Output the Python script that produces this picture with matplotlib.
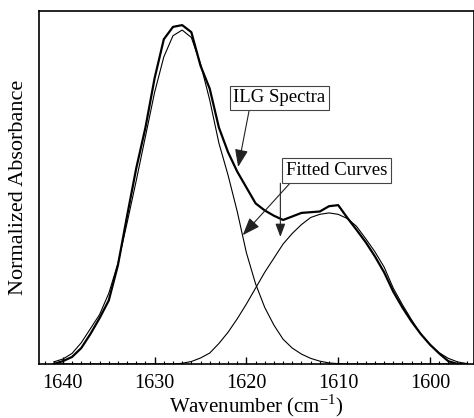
import numpy as np
import matplotlib.pyplot as plt
from matplotlib.ticker import MultipleLocator

plt.rcParams['font.family'] = ['Liberation Serif', 'DejaVu Serif']
plt.rcParams['mathtext.fontset'] = 'custom'
plt.rcParams['mathtext.rm'] = 'Liberation Serif'

# Wavenumber grid (cm^-1) shared by the measured and fitted curves
wavenumber = np.arange(1641, 1595, -1)

# Measured ILG spectrum (normalized)
ilg_spectrum = [
    0.0, 0.008, 0.02, 0.045, 0.085, 0.13, 0.18, 0.28, 0.42, 0.555,
    0.67, 0.81, 0.92, 0.955, 0.96, 0.94, 0.845, 0.78, 0.67, 0.60,
    0.545, 0.50, 0.455, 0.435, 0.42, 0.408, 0.418, 0.428, 0.43, 0.432,
    0.447, 0.45, 0.414, 0.38, 0.345, 0.305, 0.26, 0.205, 0.16, 0.12,
    0.085, 0.055, 0.03, 0.008, 0.0, 0.0,
]

# Fitted component bands
fit_band_1 = [
    0.006, 0.014, 0.03, 0.06, 0.10, 0.14, 0.20, 0.285, 0.40, 0.52,
    0.645, 0.77, 0.87, 0.93, 0.946, 0.925, 0.85, 0.748, 0.626, 0.535,
    0.432, 0.315, 0.227, 0.16, 0.11, 0.07, 0.045, 0.028, 0.016, 0.008,
    0.003, 0.001, 0.0, 0.0, 0.0, 0.0, 0.0, 0.0, 0.0, 0.0,
    0.0, 0.0, 0.0, 0.0, 0.0, 0.0,
]
fit_band_2 = [
    0.0, 0.0, 0.0, 0.0, 0.0, 0.0, 0.0, 0.0, 0.0, 0.0,
    0.0, 0.0, 0.0, 0.0, 0.002, 0.007, 0.017, 0.031, 0.058, 0.09,
    0.128, 0.17, 0.215, 0.26, 0.30, 0.34, 0.37, 0.395, 0.415, 0.424,
    0.428, 0.424, 0.412, 0.39, 0.355, 0.318, 0.275, 0.215, 0.168, 0.125,
    0.085, 0.055, 0.032, 0.016, 0.006, 0.001,
]

fig = plt.figure(figsize=(4.74, 4.18), dpi=100)
ax = fig.add_axes([0.0823, 0.1292, 0.9177, 0.8445])

ax.plot(wavenumber, fit_band_1, color='black', lw=0.8)
ax.plot(wavenumber, fit_band_2, color='black', lw=0.8)
ax.plot(wavenumber, ilg_spectrum, color='black', lw=1.6)

ax.set_xlim(1642.6, 1595.2)
ax.set_ylim(0, 1.0)

ax.xaxis.set_major_locator(MultipleLocator(10))
ax.xaxis.set_minor_locator(MultipleLocator(1))
ax.tick_params(axis='x', which='major', direction='in', length=5, width=1,
               labelsize=14.5, pad=7)
ax.tick_params(axis='x', which='minor', direction='in', length=2.5, width=0.8)
ax.set_yticks([])
for side in ['left', 'top', 'bottom', 'right']:
    ax.spines[side].set_linewidth(1.2)

ax.set_xlabel('Wavenumber (cm$^{-1}$)', fontsize=15, labelpad=0)
ax.set_ylabel('Normalized Absorbance', fontsize=16, labelpad=8)

box = dict(boxstyle='square,pad=0.2', fc='white', ec='#444444', lw=0.8)
arrow = dict(arrowstyle='-|>,head_length=0.8,head_width=0.3', color='#222222',
             lw=0.8, shrinkA=0, shrinkB=0)

# Label pointing at the measured spectrum
ax.annotate('ILG Spectra', xy=(1620.9, 0.558), xytext=(1616.4, 0.754),
            fontsize=13.5, ha='center', va='center', bbox=box,
            arrowprops=dict(arrow, relpos=(0.18, 0.0)))

# Label pointing at both fitted bands
ax.annotate('Fitted Curves', xy=(1620.4, 0.365), xytext=(1610.2, 0.548),
            fontsize=13.5, ha='center', va='center', bbox=box,
            arrowprops=dict(arrow, relpos=(0.08, 0.0)))
ax.annotate('', xy=(1616.3, 0.360), xytext=(1616.3, 0.512),
            arrowprops=arrow)

fig.savefig('out.png', dpi=100)
